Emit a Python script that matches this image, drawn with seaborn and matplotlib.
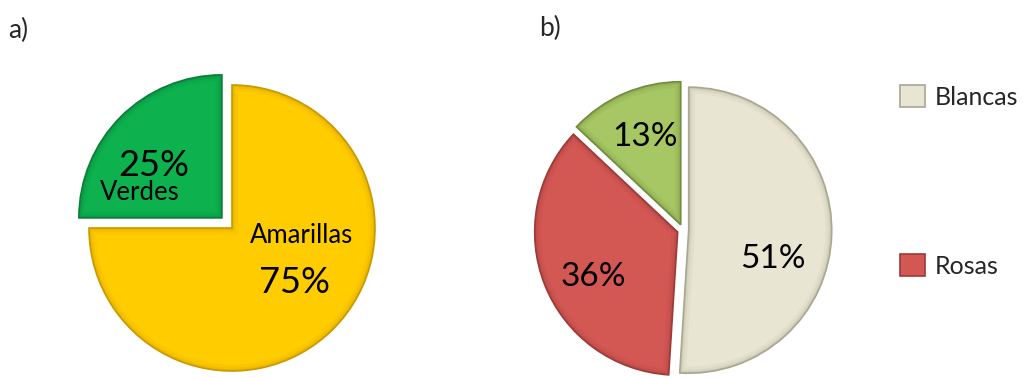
import matplotlib
matplotlib.use("Agg")
import matplotlib.pyplot as plt
from matplotlib.patches import Patch, Wedge
import seaborn as sns

# Chart a): yellow vs green
a_labels = ["Amarillas", "Verdes"]
a_values = [75, 25]
a_colors = ["#FFCC00", "#0DB14E"]
a_edges = ["#C99A00", "#0A7F38"]

# Chart b): white, pink and green
b_labels = ["Blancas", "Rosas", "Verdes"]
b_values = [51, 36, 13]
b_colors = ["#E8E5D2", "#D35753", "#A6C764"]
b_edges = ["#A9A692", "#9C3B38", "#728C3E"]

legend_labels = ["Blancas", "Rosas"]

sns.set_theme(style="white")
plt.rcParams["font.family"] = ["Lato", "DejaVu Sans"]

W, H = 1023, 379
fig = plt.figure(figsize=(W / 100, H / 100), dpi=100)
fig.patch.set_facecolor("white")

R_PX = 143.0
LIM = 1.2
side = 2 * LIM * R_PX


def pie_axes(cx, cy):
    left = (cx - side / 2) / W
    bottom = ((H - cy) - side / 2) / H
    return fig.add_axes([left, bottom, side / W, side / H])


def finish(ax):
    # pie() resets the limits, so fix them afterwards
    ax.set_xlim(-LIM, LIM)
    ax.set_ylim(-LIM, LIM)
    ax.set_aspect("equal")
    ax.axis("off")


def bevel(ax, wedges, edges):
    # soft darker rim inside each slice
    for w, ec in zip(wedges, edges):
        w.set_edgecolor(ec)
        for lw, alpha in [(9, 0.10), (5, 0.16), (2.5, 0.22)]:
            rim = Wedge(w.center, w.r, w.theta1, w.theta2, facecolor="none",
                        edgecolor=ec, linewidth=lw, alpha=alpha, zorder=w.get_zorder() + 0.1)
            ax.add_patch(rim)
            rim.set_clip_path(w)


# ---- a) ----
ax_a = pie_axes(232, 228)
wedges_a, _, pct_a = ax_a.pie(
    a_values,
    colors=a_colors,
    startangle=90,
    counterclock=False,
    explode=[0.0, 0.1],
    autopct="%d%%",
    pctdistance=0.6,
    wedgeprops=dict(linewidth=1.2),
    textprops=dict(color="black", fontsize=26, zorder=5),
)
finish(ax_a)
bevel(ax_a, wedges_a, a_edges)
pct_positions_a = [(0.44, -0.38), (-0.545, 0.44)]
for t, pos in zip(pct_a, pct_positions_a):
    t.set_position(pos)
name_positions_a = [(0.483, -0.05), (-0.643, 0.245)]
for name, pos in zip(a_labels, name_positions_a):
    ax_a.text(pos[0], pos[1], name, ha="center", va="center",
              fontsize=18.5, color="black", zorder=5)

# ---- b) ----
ax_b = pie_axes(683, 230)
wedges_b, _, pct_b = ax_b.pie(
    b_values,
    colors=b_colors,
    startangle=90,
    counterclock=False,
    explode=[0.04, 0.04, 0.04],
    autopct="%d%%",
    pctdistance=0.68,
    wedgeprops=dict(linewidth=1.2),
    textprops=dict(color="black", fontsize=24, zorder=5),
)
finish(ax_b)
bevel(ax_b, wedges_b, b_edges)
pct_positions_b = [(0.63, -0.2), (-0.63, -0.33), (-0.266, 0.65)]
for t, pos in zip(pct_b, pct_positions_b):
    t.set_position(pos)

# panel tags
fig.text(18 / W, 1 - 30 / H, "a)", ha="center", va="center", fontsize=19)
fig.text(550 / W, 1 - 28 / H, "b)", ha="center", va="center", fontsize=19)

# legend for chart b
fs_leg = 18
handles = [Patch(facecolor=b_colors[i], edgecolor=b_edges[i], linewidth=1.2)
           for i in range(len(legend_labels))]
fig.legend(
    handles, legend_labels,
    loc="upper left",
    bbox_to_anchor=(900 / W, 1 - 85 / H),
    frameon=False,
    fontsize=fs_leg,
    handlelength=1.0,
    handleheight=1.0,
    handletextpad=0.4,
    labelspacing=5.8,
    borderpad=0,
    borderaxespad=0,
)

fig.savefig("out.png", dpi=100, facecolor="white")
